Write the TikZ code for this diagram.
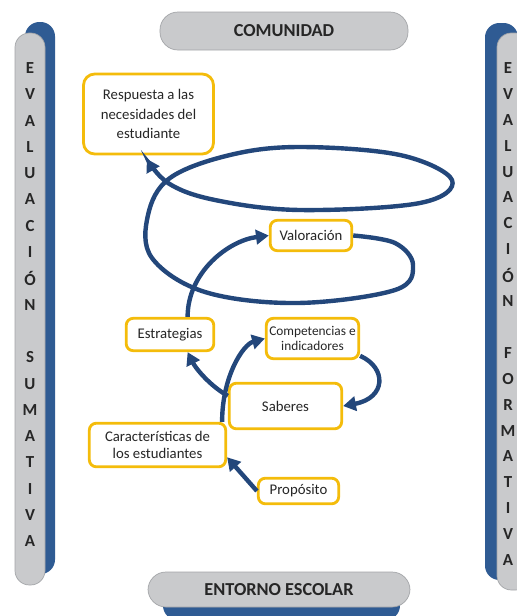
\documentclass[tikz,border=0pt]{standalone}
\usepackage{fontspec}
\setmainfont{Carlito}
\usetikzlibrary{arrows.meta}
\definecolor{pillgray}{HTML}{C9CACC}
\definecolor{pilledge}{HTML}{A3A5A8}
\definecolor{barblue}{HTML}{2F5B93}
\definecolor{boxgold}{HTML}{F4BC0B}
\definecolor{flowblue}{HTML}{23477B}
\definecolor{inkgray}{HTML}{262626}

\begin{document}
\begin{tikzpicture}[
  x=0.25mm,
  y=-0.25mm,
  every node/.style={text=inkgray},
  box/.style={draw=boxgold, line width=2pt, rounded corners=5pt, fill=white,
              align=center, inner sep=1pt, font=\fontsize{10.5}{13.5}\selectfont},
  pill/.style={fill=pillgray, draw=pilledge, line width=0.5pt,
               rounded corners=4.5mm, font=\fontsize{13}{15}\selectfont\bfseries},
  sidebar/.style={fill=pillgray, draw=pilledge, line width=0.5pt,
                  rounded corners=3.6mm},
  barshadow/.style={fill=barblue, rounded corners=3.6mm},
  barletter/.style={inner sep=0pt, font=\fontsize{12}{14}\selectfont\bfseries},
  flow/.style={draw=flowblue, line width=1.1mm,
               -{Triangle[length=3.2mm, width=3.6mm]}}
]
  \useasboundingbox (0,0) rectangle (517,616);

  % ---- the two side bars -------------------------------------------------
  \fill[barshadow] (25,22) rectangle (55,574);
  \draw[sidebar] (15,33) rectangle (45,585);
  \fill[barshadow] (485,23) rectangle (518,580);
  \draw[sidebar] (497,33) rectangle (530,590);
  \foreach \c [count=\i] in {E,V,A,L,U,A,C,I,Ó,N,{},S,U,M,A,T,I,V,A}
    \node[barletter] (sum\i) at (30,{68+(\i-1)*26.3}) {\c};
  \foreach \c [count=\i] in {E,V,A,L,U,A,C,I,Ó,N,{},F,O,R,M,A,T,I,V,A}
    \node[barletter] (form\i) at (508,{68+(\i-1)*25.9}) {\c};

  % ---- top and bottom labels --------------------------------------------
  \node[pill, minimum width=62mm, minimum height=9.5mm] (comunidad)
    at (284,31) {COMUNIDAD};
  \fill[barshadow] (163,582) rectangle (400,620);
  \node[pill, minimum width=65.5mm, minimum height=8.75mm] (entorno)
    at (279,589.5) {ENTORNO ESCOLAR};

  % ---- boxes -------------------------------------------------------------
  \node[box, rounded corners=8pt, minimum width=32.5mm, minimum height=20mm,
        font=\fontsize{10.5}{14}\selectfont]
    (resp) at (148.5,114) {Respuesta a las\\necesidades del\\estudiante};
  \node[box, minimum width=20.4mm, minimum height=7.6mm] (valor)
    at (311,235.5) {Valoración};
  \node[box, minimum width=21.9mm, minimum height=8.1mm] (estrat)
    at (170,334.5) {Estrategias};
  \node[box, minimum width=23.1mm, minimum height=10.1mm,
        font=\fontsize{9.5}{11}\selectfont] (compet)
    at (312.5,338.5) {Competencias e\\indicadores};
  \node[box, minimum width=28.1mm, minimum height=11.4mm] (saberes)
    at (285.5,406) {Saberes};
  \node[box, minimum width=34.1mm, minimum height=10.9mm,
        font=\fontsize{10.5}{12.5}\selectfont] (caract)
    at (157.5,445) {Características de\\los estudiantes};
  \node[box, minimum width=20.1mm, minimum height=6.4mm] (prop)
    at (298.5,491) {Propósito};

  % ---- arrows --------------------------------------------------------------
  \draw[flow] (prop.west) -- (caract.-10);
  \draw[flow] ([xshift=-1.25mm]caract.north east)
    .. controls +(0,-45) and +(-22,6) .. (compet.west);
  \draw[flow] (saberes.170)
    .. controls +(-18,-10) and +(8,16) .. (estrat.-45);
  \draw[flow] (compet.-20)
    .. controls +(27,12) and +(43,-8) .. (saberes.east);
  \draw[flow] (estrat.45)
    .. controls +(0,-45) and +(-40,5) .. (valor.west);

  % the spiral from Valoración up to the answer box
  \draw[flow, shorten >=1mm] plot[smooth, tension=0.6] coordinates {
    (valor.east) (395,243) (413,265) (395,290) (297,303) (205,292)
    (152,258) (148,215) (170,178) (230,155) (300,147) (400,155)
    (452,180) (420,203) (300,210) (215,200) (168,183) (resp.-95)};
\end{tikzpicture}
\end{document}
